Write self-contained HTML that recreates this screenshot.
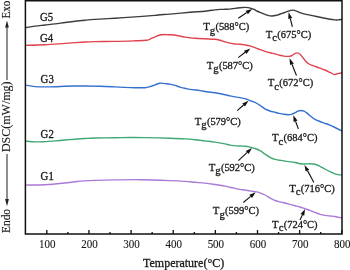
<!DOCTYPE html><html><head><meta charset="utf-8"><style>html,body{margin:0;padding:0;background:#fff;}svg{display:block;} .t{filter:grayscale(1);} text{font-family:"Liberation Serif",serif;fill:#1a1a1a;stroke:#1a1a1a;stroke-width:0.30px;} text.a{stroke-width:0.12px;}</style></head><body>
<svg width="350" height="270" viewBox="0 0 350 270">
<rect width="350" height="270" fill="#fff"/>
<path d="M25.00,27.80 C26.67,27.52 31.67,26.57 35.00,26.10 C38.33,25.63 41.67,25.37 45.00,25.00 C48.33,24.63 51.67,24.32 55.00,23.90 C58.33,23.48 61.67,22.95 65.00,22.50 C68.33,22.05 71.67,21.58 75.00,21.20 C78.33,20.82 81.67,20.50 85.00,20.20 C88.33,19.90 90.00,19.73 95.00,19.40 C100.00,19.07 108.33,18.62 115.00,18.20 C121.67,17.78 128.33,17.37 135.00,16.90 C141.67,16.43 150.83,15.75 155.00,15.40 C159.17,15.05 157.50,15.02 160.00,14.80 C162.50,14.58 165.00,14.52 170.00,14.10 C175.00,13.68 184.17,12.78 190.00,12.30 C195.83,11.82 200.83,11.60 205.00,11.20 C209.17,10.80 212.50,10.20 215.00,9.90 C217.50,9.60 218.33,9.50 220.00,9.40 C221.67,9.30 223.33,9.35 225.00,9.30 C226.67,9.25 228.33,9.25 230.00,9.10 C231.67,8.95 233.33,8.62 235.00,8.40 C236.67,8.18 238.33,7.97 240.00,7.80 C241.67,7.63 243.67,7.43 245.00,7.40 C246.33,7.37 247.00,7.45 248.00,7.60 C249.00,7.75 250.00,8.00 251.00,8.30 C252.00,8.60 253.00,8.95 254.00,9.40 C255.00,9.85 256.00,10.50 257.00,11.00 C258.00,11.50 259.17,12.03 260.00,12.40 C260.83,12.77 260.83,12.75 262.00,13.20 C263.17,13.65 265.33,14.63 267.00,15.10 C268.67,15.57 270.33,16.00 272.00,16.00 C273.67,16.00 275.33,15.53 277.00,15.10 C278.67,14.67 280.33,13.97 282.00,13.40 C283.67,12.83 285.67,12.17 287.00,11.70 C288.33,11.23 289.00,10.87 290.00,10.60 C291.00,10.33 291.83,9.98 293.00,10.10 C294.17,10.22 295.83,10.87 297.00,11.30 C298.17,11.73 298.67,12.23 300.00,12.70 C301.33,13.17 303.33,13.70 305.00,14.10 C306.67,14.50 307.50,14.58 310.00,15.10 C312.50,15.62 316.67,16.50 320.00,17.20 C323.33,17.90 327.50,18.85 330.00,19.30 C332.50,19.75 333.67,19.80 335.00,19.90 C336.33,20.00 336.83,19.98 338.00,19.90 C339.17,19.82 341.33,19.48 342.00,19.40" fill="none" stroke="#3c3c3c" stroke-width="1.40" stroke-linejoin="round"/>
<path d="M25.00,45.40 C28.33,45.30 38.33,45.13 45.00,44.80 C51.67,44.47 58.33,43.87 65.00,43.40 C71.67,42.93 80.00,42.30 85.00,42.00 C90.00,41.70 90.00,41.70 95.00,41.60 C100.00,41.50 108.33,41.53 115.00,41.40 C121.67,41.27 129.83,40.98 135.00,40.80 C140.17,40.62 143.50,40.58 146.00,40.30 C148.50,40.02 148.50,39.67 150.00,39.10 C151.50,38.53 153.33,37.58 155.00,36.90 C156.67,36.22 158.50,35.40 160.00,35.00 C161.50,34.60 162.67,34.53 164.00,34.50 C165.33,34.47 166.67,34.77 168.00,34.80 C169.33,34.83 170.67,34.63 172.00,34.70 C173.33,34.77 174.67,34.97 176.00,35.20 C177.33,35.43 178.50,35.78 180.00,36.10 C181.50,36.42 183.33,36.82 185.00,37.10 C186.67,37.38 188.33,37.60 190.00,37.80 C191.67,38.00 192.50,38.13 195.00,38.30 C197.50,38.47 201.67,38.65 205.00,38.80 C208.33,38.95 212.50,38.97 215.00,39.20 C217.50,39.43 218.33,39.77 220.00,40.20 C221.67,40.63 223.33,41.32 225.00,41.80 C226.67,42.28 228.33,42.73 230.00,43.10 C231.67,43.47 233.33,43.82 235.00,44.00 C236.67,44.18 238.33,44.05 240.00,44.20 C241.67,44.35 243.33,44.62 245.00,44.90 C246.67,45.18 248.33,45.45 250.00,45.90 C251.67,46.35 253.33,46.97 255.00,47.60 C256.67,48.23 258.33,49.07 260.00,49.70 C261.67,50.33 263.33,50.88 265.00,51.40 C266.67,51.92 268.33,52.38 270.00,52.80 C271.67,53.22 273.33,53.48 275.00,53.90 C276.67,54.32 278.50,54.93 280.00,55.30 C281.50,55.67 282.67,55.92 284.00,56.10 C285.33,56.28 286.83,56.42 288.00,56.40 C289.17,56.38 290.00,56.37 291.00,56.00 C292.00,55.63 293.00,54.72 294.00,54.20 C295.00,53.68 296.00,52.88 297.00,52.90 C298.00,52.92 299.00,53.50 300.00,54.30 C301.00,55.10 302.00,56.48 303.00,57.70 C304.00,58.92 305.00,60.55 306.00,61.60 C307.00,62.65 307.83,63.32 309.00,64.00 C310.17,64.68 311.17,65.02 313.00,65.70 C314.83,66.38 318.00,67.38 320.00,68.10 C322.00,68.82 323.33,69.28 325.00,70.00 C326.67,70.72 328.50,71.67 330.00,72.40 C331.50,73.13 332.83,74.17 334.00,74.40 C335.17,74.63 335.67,74.07 337.00,73.80 C338.33,73.53 341.17,72.97 342.00,72.80" fill="none" stroke="#e0434d" stroke-width="1.40" stroke-linejoin="round"/>
<path d="M25.00,85.10 C26.67,85.35 31.67,86.30 35.00,86.60 C38.33,86.90 41.67,86.88 45.00,86.90 C48.33,86.92 51.67,86.82 55.00,86.70 C58.33,86.58 61.67,86.32 65.00,86.20 C68.33,86.08 71.67,86.03 75.00,86.00 C78.33,85.97 80.83,85.95 85.00,86.00 C89.17,86.05 95.00,86.15 100.00,86.30 C105.00,86.45 110.83,86.72 115.00,86.90 C119.17,87.08 121.67,87.27 125.00,87.40 C128.33,87.53 131.67,87.65 135.00,87.70 C138.33,87.75 142.50,87.88 145.00,87.70 C147.50,87.52 148.33,87.07 150.00,86.60 C151.67,86.13 153.33,85.47 155.00,84.90 C156.67,84.33 158.33,83.42 160.00,83.20 C161.67,82.98 163.33,83.45 165.00,83.60 C166.67,83.75 168.33,83.80 170.00,84.10 C171.67,84.40 173.33,84.90 175.00,85.40 C176.67,85.90 178.33,86.62 180.00,87.10 C181.67,87.58 183.33,87.92 185.00,88.30 C186.67,88.68 187.50,89.02 190.00,89.40 C192.50,89.78 197.50,90.25 200.00,90.60 C202.50,90.95 202.50,91.13 205.00,91.50 C207.50,91.87 211.67,92.27 215.00,92.80 C218.33,93.33 222.50,94.18 225.00,94.70 C227.50,95.22 228.33,95.53 230.00,95.90 C231.67,96.27 232.50,96.45 235.00,96.90 C237.50,97.35 242.50,97.98 245.00,98.60 C247.50,99.22 248.33,99.97 250.00,100.60 C251.67,101.23 253.33,101.62 255.00,102.40 C256.67,103.18 258.33,104.23 260.00,105.30 C261.67,106.37 263.33,107.85 265.00,108.80 C266.67,109.75 268.33,110.42 270.00,111.00 C271.67,111.58 273.50,111.90 275.00,112.30 C276.50,112.70 277.67,113.10 279.00,113.40 C280.33,113.70 281.50,113.88 283.00,114.10 C284.50,114.32 286.50,114.70 288.00,114.70 C289.50,114.70 290.83,114.43 292.00,114.10 C293.17,113.77 294.00,113.20 295.00,112.70 C296.00,112.20 297.00,111.47 298.00,111.10 C299.00,110.73 300.00,110.50 301.00,110.50 C302.00,110.50 303.17,110.78 304.00,111.10 C304.83,111.42 305.33,111.93 306.00,112.40 C306.67,112.87 307.33,113.35 308.00,113.90 C308.67,114.45 308.83,114.78 310.00,115.70 C311.17,116.62 313.33,118.43 315.00,119.40 C316.67,120.37 318.33,120.85 320.00,121.50 C321.67,122.15 323.33,122.68 325.00,123.30 C326.67,123.92 328.33,124.50 330.00,125.20 C331.67,125.90 333.00,126.53 335.00,127.50 C337.00,128.47 340.83,130.42 342.00,131.00" fill="none" stroke="#3570d0" stroke-width="1.40" stroke-linejoin="round"/>
<path d="M25.00,141.00 C26.67,141.15 31.67,141.80 35.00,141.90 C38.33,142.00 41.67,141.77 45.00,141.60 C48.33,141.43 51.67,141.17 55.00,140.90 C58.33,140.63 61.67,140.28 65.00,140.00 C68.33,139.72 71.67,139.45 75.00,139.20 C78.33,138.95 81.67,138.70 85.00,138.50 C88.33,138.30 90.00,138.12 95.00,138.00 C100.00,137.88 109.17,137.88 115.00,137.80 C120.83,137.72 125.00,137.53 130.00,137.50 C135.00,137.47 138.33,137.47 145.00,137.60 C151.67,137.73 163.33,138.08 170.00,138.30 C176.67,138.52 180.83,138.67 185.00,138.90 C189.17,139.13 191.67,139.37 195.00,139.70 C198.33,140.03 201.67,140.50 205.00,140.90 C208.33,141.30 211.67,141.60 215.00,142.10 C218.33,142.60 222.50,143.40 225.00,143.90 C227.50,144.40 227.50,144.75 230.00,145.10 C232.50,145.45 237.50,145.82 240.00,146.00 C242.50,146.18 243.33,146.02 245.00,146.20 C246.67,146.38 248.33,146.72 250.00,147.10 C251.67,147.48 253.33,147.90 255.00,148.50 C256.67,149.10 258.33,149.77 260.00,150.70 C261.67,151.63 263.33,152.98 265.00,154.10 C266.67,155.22 268.33,156.52 270.00,157.40 C271.67,158.28 273.33,158.92 275.00,159.40 C276.67,159.88 278.33,160.02 280.00,160.30 C281.67,160.58 282.50,160.73 285.00,161.10 C287.50,161.47 292.50,162.07 295.00,162.50 C297.50,162.93 298.33,163.45 300.00,163.70 C301.67,163.95 303.33,164.00 305.00,164.00 C306.67,164.00 308.33,163.67 310.00,163.70 C311.67,163.73 313.33,163.77 315.00,164.20 C316.67,164.63 318.33,165.48 320.00,166.30 C321.67,167.12 323.33,168.20 325.00,169.10 C326.67,170.00 328.33,170.92 330.00,171.70 C331.67,172.48 333.67,173.32 335.00,173.80 C336.33,174.28 336.83,174.42 338.00,174.60 C339.17,174.78 341.33,174.85 342.00,174.90" fill="none" stroke="#40a872" stroke-width="1.40" stroke-linejoin="round"/>
<path d="M25.00,185.10 C28.33,185.03 40.00,184.88 45.00,184.70 C50.00,184.52 51.67,184.28 55.00,184.00 C58.33,183.72 61.67,183.37 65.00,183.00 C68.33,182.63 71.67,182.15 75.00,181.80 C78.33,181.45 81.67,181.13 85.00,180.90 C88.33,180.67 90.00,180.57 95.00,180.40 C100.00,180.23 107.50,180.02 115.00,179.90 C122.50,179.78 130.83,179.58 140.00,179.70 C149.17,179.82 162.50,180.32 170.00,180.60 C177.50,180.88 180.83,181.12 185.00,181.40 C189.17,181.68 191.67,182.02 195.00,182.30 C198.33,182.58 201.67,182.73 205.00,183.10 C208.33,183.47 211.67,184.00 215.00,184.50 C218.33,185.00 222.50,185.63 225.00,186.10 C227.50,186.57 228.33,186.92 230.00,187.30 C231.67,187.68 233.33,188.05 235.00,188.40 C236.67,188.75 238.33,189.13 240.00,189.40 C241.67,189.67 243.33,189.75 245.00,190.00 C246.67,190.25 248.33,190.63 250.00,190.90 C251.67,191.17 253.33,191.28 255.00,191.60 C256.67,191.92 258.33,192.23 260.00,192.80 C261.67,193.37 263.33,194.13 265.00,195.00 C266.67,195.87 268.33,197.08 270.00,198.00 C271.67,198.92 273.33,199.85 275.00,200.50 C276.67,201.15 278.33,201.48 280.00,201.90 C281.67,202.32 283.33,202.58 285.00,203.00 C286.67,203.42 288.33,203.95 290.00,204.40 C291.67,204.85 293.33,205.27 295.00,205.70 C296.67,206.13 298.33,206.50 300.00,207.00 C301.67,207.50 303.33,208.13 305.00,208.70 C306.67,209.27 308.33,209.78 310.00,210.40 C311.67,211.02 313.33,211.75 315.00,212.40 C316.67,213.05 318.33,213.80 320.00,214.30 C321.67,214.80 323.33,215.12 325.00,215.40 C326.67,215.68 328.33,215.82 330.00,216.00 C331.67,216.18 333.00,216.18 335.00,216.50 C337.00,216.82 340.83,217.67 342.00,217.90" fill="none" stroke="#aa79d8" stroke-width="1.40" stroke-linejoin="round"/>
<path d="M25.40,0.70 H342.00 V234.10 H25.40 Z" fill="none" stroke="#111" stroke-width="1.5"/>
<path d="M46.80,234.10 V230.10 M88.94,234.10 V230.10 M131.08,234.10 V230.10 M173.22,234.10 V230.10 M215.36,234.10 V230.10 M257.50,234.10 V230.10 M299.64,234.10 V230.10 M341.78,234.10 V230.10 M67.87,234.10 V231.90 M110.01,234.10 V231.90 M152.15,234.10 V231.90 M194.29,234.10 V231.90 M236.43,234.10 V231.90 M278.57,234.10 V231.90 M320.71,234.10 V231.90" stroke="#111" stroke-width="1.35" fill="none"/>
<path d="M7.0,80.1 V25" stroke="#333" stroke-width="1.1" fill="none"/>
<path d="M7.0,20.6 L5.1,27.6 L8.9,27.6 Z" fill="#222"/>
<path d="M7.0,153.9 V201" stroke="#333" stroke-width="1.1" fill="none"/>
<path d="M7.0,206.2 L5.1,199.0 L8.9,199.0 Z" fill="#222"/>
<path d="M238.30,18.30 L246.82,12.54" stroke="#111" stroke-width="1.1"/>
<path d="M252.20,8.90 L247.96,14.24 L245.67,10.84 Z" fill="#111"/>
<path d="M292.40,26.80 L290.24,18.49" stroke="#111" stroke-width="1.1"/>
<path d="M288.60,12.20 L292.22,17.97 L288.25,19.01 Z" fill="#111"/>
<path d="M238.20,57.60 L245.21,52.31" stroke="#111" stroke-width="1.1"/>
<path d="M250.40,48.40 L246.44,53.95 L243.98,50.68 Z" fill="#111"/>
<path d="M296.50,75.50 L291.94,64.23" stroke="#111" stroke-width="1.1"/>
<path d="M289.50,58.20 L293.84,63.46 L290.04,64.99 Z" fill="#111"/>
<path d="M237.20,110.60 L243.61,104.98" stroke="#111" stroke-width="1.1"/>
<path d="M248.50,100.70 L244.96,106.53 L242.26,103.44 Z" fill="#111"/>
<path d="M298.40,129.00 L295.55,121.30" stroke="#111" stroke-width="1.1"/>
<path d="M293.30,115.20 L297.48,120.59 L293.63,122.01 Z" fill="#111"/>
<path d="M238.40,160.60 L247.23,152.42" stroke="#111" stroke-width="1.1"/>
<path d="M252.00,148.00 L248.63,153.92 L245.84,150.91 Z" fill="#111"/>
<path d="M313.90,182.50 L307.49,170.62" stroke="#111" stroke-width="1.1"/>
<path d="M304.40,164.90 L309.29,169.65 L305.68,171.59 Z" fill="#111"/>
<path d="M243.30,202.50 L250.70,196.35" stroke="#111" stroke-width="1.1"/>
<path d="M255.70,192.20 L252.01,197.93 L249.39,194.78 Z" fill="#111"/>
<path d="M300.00,220.00 L302.35,214.99" stroke="#111" stroke-width="1.1"/>
<path d="M305.10,209.10 L304.20,215.86 L300.49,214.12 Z" fill="#111"/>
<g class="t">
<text class="a" transform="translate(47.30,247.8) scale(1,1.100)" font-size="11.00" text-anchor="middle">100</text>
<text class="a" transform="translate(89.44,247.8) scale(1,1.100)" font-size="11.00" text-anchor="middle">200</text>
<text class="a" transform="translate(131.58,247.8) scale(1,1.100)" font-size="11.00" text-anchor="middle">300</text>
<text class="a" transform="translate(173.72,247.8) scale(1,1.100)" font-size="11.00" text-anchor="middle">400</text>
<text class="a" transform="translate(215.86,247.8) scale(1,1.100)" font-size="11.00" text-anchor="middle">500</text>
<text class="a" transform="translate(258.00,247.8) scale(1,1.100)" font-size="11.00" text-anchor="middle">600</text>
<text class="a" transform="translate(300.14,247.8) scale(1,1.100)" font-size="11.00" text-anchor="middle">700</text>
<text class="a" transform="translate(342.28,247.8) scale(1,1.100)" font-size="11.00" text-anchor="middle">800</text>
<text transform="translate(143.0,266.9) scale(1,1.100)" font-size="12.00">Temperature(°C)</text>
<g transform="translate(9.8,0) rotate(-90)"><text class="a" transform="translate(-18.6,0) scale(1,1.07)" font-size="11.2">Exo</text><text class="a" transform="translate(-233.0,0) scale(1,1.05)" font-size="11.4">Endo</text><text class="a" transform="translate(-152.1,0) scale(1,1.0)" font-size="12">DSC(mW/mg)</text></g>
<text transform="translate(40.00,20.60) scale(1,1.060)" font-size="10.80">G5</text>
<text transform="translate(40.00,41.50) scale(1,1.060)" font-size="10.80">G4</text>
<text transform="translate(40.60,83.40) scale(1,1.060)" font-size="10.80">G3</text>
<text transform="translate(40.60,138.00) scale(1,1.060)" font-size="10.80">G2</text>
<text transform="translate(40.60,180.00) scale(1,1.060)" font-size="10.80">G1</text>
<text transform="translate(203.20,30.30) scale(1,1.030)" font-size="10.80">T<tspan font-size="10.80" dy="3.20">g</tspan><tspan font-size="10.50" dx="0.20" dy="-3.20">(588°C)</tspan></text>
<text transform="translate(265.70,37.60) scale(1,1.030)" font-size="10.80">T<tspan font-size="10.80" dy="3.20">c</tspan><tspan font-size="10.50" dx="0.20" dy="-3.20">(675°C)</tspan></text>
<text transform="translate(206.70,69.20) scale(1,1.030)" font-size="10.80">T<tspan font-size="10.80" dy="3.20">g</tspan><tspan font-size="10.50" dx="0.20" dy="-3.20">(587°C)</tspan></text>
<text transform="translate(267.70,86.40) scale(1,1.030)" font-size="10.80">T<tspan font-size="10.80" dy="3.20">c</tspan><tspan font-size="10.50" dx="0.20" dy="-3.20">(672°C)</tspan></text>
<text transform="translate(194.70,124.60) scale(1,1.030)" font-size="10.80">T<tspan font-size="10.80" dy="3.20">g</tspan><tspan font-size="10.50" dx="0.20" dy="-3.20">(579°C)</tspan></text>
<text transform="translate(272.00,141.40) scale(1,1.030)" font-size="10.80">T<tspan font-size="10.80" dy="3.20">c</tspan><tspan font-size="10.50" dx="0.20" dy="-3.20">(684°C)</tspan></text>
<text transform="translate(208.70,171.10) scale(1,1.030)" font-size="10.80">T<tspan font-size="10.80" dy="3.20">g</tspan><tspan font-size="10.50" dx="0.20" dy="-3.20">(592°C)</tspan></text>
<text transform="translate(289.20,192.00) scale(1,1.030)" font-size="10.80">T<tspan font-size="10.80" dy="3.20">c</tspan><tspan font-size="10.50" dx="0.20" dy="-3.20">(716°C)</tspan></text>
<text transform="translate(212.80,214.40) scale(1,1.030)" font-size="10.80">T<tspan font-size="10.80" dy="3.20">g</tspan><tspan font-size="10.50" dx="0.20" dy="-3.20">(599°C)</tspan></text>
<text transform="translate(272.10,227.60) scale(1,1.030)" font-size="10.80">T<tspan font-size="10.80" dy="3.20">c</tspan><tspan font-size="10.50" dx="0.20" dy="-3.20">(724°C)</tspan></text>
</g>
</svg></body></html>
